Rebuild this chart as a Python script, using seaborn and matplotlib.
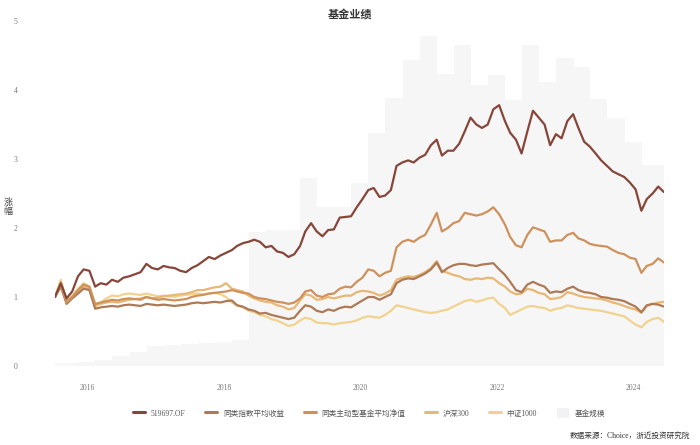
import numpy as np
import pandas as pd
import matplotlib
matplotlib.use("Agg")
import matplotlib.pyplot as plt
import matplotlib.dates as mdates
from matplotlib.lines import Line2D
from matplotlib.patches import Patch
import seaborn as sns

# ---------------- data ----------------
series_names = ["519697.OF", "同类指数平均收益", "同类主动型基金平均净值", "沪深300", "中证1000"]
series_colors = ["#86463a", "#ad7a55", "#cf915c", "#e8b775", "#f1d28e"]

dates = pd.date_range("2015-07-01", periods=108, freq="MS") + pd.Timedelta(days=12)

fund = [1.00, 1.20, 0.98, 1.08, 1.30, 1.40, 1.38, 1.15, 1.20, 1.18, 1.25, 1.22,
        1.28, 1.30, 1.33, 1.36, 1.48, 1.42, 1.40, 1.45, 1.43, 1.42, 1.38, 1.36,
        1.42, 1.46, 1.52, 1.58, 1.55, 1.60, 1.64, 1.68, 1.74, 1.78, 1.80, 1.83,
        1.80, 1.72, 1.74, 1.66, 1.64, 1.58, 1.62, 1.74, 1.95, 2.07, 1.95, 1.88,
        1.97, 1.98, 2.15, 2.16, 2.17, 2.30, 2.42, 2.55, 2.58, 2.45, 2.47, 2.55,
        2.90, 2.95, 2.98, 2.95, 3.02, 3.06, 3.20, 3.28, 3.05, 3.12, 3.12, 3.22,
        3.40, 3.60, 3.50, 3.45, 3.50, 3.72, 3.78, 3.55, 3.38, 3.28, 3.08, 3.40,
        3.70, 3.60, 3.50, 3.20, 3.36, 3.30, 3.55, 3.65, 3.45, 3.25, 3.18, 3.08,
        2.98, 2.90, 2.82, 2.78, 2.74, 2.66, 2.56, 2.25, 2.42, 2.50, 2.60, 2.52]

index_avg = [1.00, 1.15, 0.90, 0.98, 1.05, 1.12, 1.10, 0.83, 0.85, 0.86, 0.87, 0.86,
             0.88, 0.89, 0.88, 0.87, 0.90, 0.89, 0.88, 0.89, 0.88, 0.87, 0.88, 0.89,
             0.91, 0.92, 0.91, 0.92, 0.93, 0.92, 0.94, 0.95, 0.88, 0.86, 0.82, 0.80,
             0.76, 0.77, 0.74, 0.72, 0.70, 0.68, 0.70, 0.80, 0.88, 0.86, 0.80, 0.78,
             0.82, 0.80, 0.84, 0.86, 0.85, 0.90, 0.95, 1.00, 1.00, 0.96, 1.00, 1.04,
             1.20, 1.25, 1.27, 1.26, 1.30, 1.34, 1.40, 1.50, 1.36, 1.42, 1.46, 1.48,
             1.48, 1.46, 1.45, 1.47, 1.48, 1.49, 1.40, 1.32, 1.22, 1.10, 1.07, 1.18,
             1.22, 1.18, 1.15, 1.06, 1.08, 1.07, 1.12, 1.15, 1.10, 1.07, 1.06, 1.04,
             1.00, 0.99, 0.97, 0.96, 0.94, 0.90, 0.86, 0.78, 0.88, 0.90, 0.89, 0.86]

active_avg = [1.00, 1.18, 0.92, 1.00, 1.10, 1.18, 1.15, 0.90, 0.92, 0.94, 0.96, 0.95,
              0.97, 0.98, 0.97, 0.96, 1.00, 0.98, 0.96, 0.97, 0.96, 0.95, 0.96, 0.97,
              1.00, 1.02, 1.03, 1.05, 1.06, 1.07, 1.08, 1.10, 1.08, 1.06, 1.05, 1.00,
              0.98, 0.97, 0.95, 0.93, 0.92, 0.90, 0.92, 0.98, 1.08, 1.10, 1.02, 1.00,
              1.04, 1.05, 1.12, 1.15, 1.14, 1.22, 1.28, 1.40, 1.38, 1.30, 1.35, 1.38,
              1.72, 1.80, 1.83, 1.80, 1.86, 1.90, 2.05, 2.22, 1.95, 2.00, 2.07, 2.10,
              2.22, 2.20, 2.18, 2.20, 2.24, 2.30, 2.20, 2.05, 1.87, 1.75, 1.72, 1.90,
              2.01, 1.98, 1.95, 1.80, 1.82, 1.82, 1.90, 1.93, 1.85, 1.82, 1.77, 1.75,
              1.74, 1.73, 1.68, 1.64, 1.62, 1.57, 1.55, 1.35, 1.45, 1.48, 1.56, 1.50]

hs300 = [1.00, 1.22, 0.95, 1.00, 1.08, 1.15, 1.12, 0.88, 0.90, 0.92, 0.93, 0.92,
         0.94, 0.96, 0.97, 0.98, 1.00, 0.98, 0.99, 1.01, 1.02, 1.03, 1.04, 1.05,
         1.07, 1.10, 1.10, 1.12, 1.14, 1.15, 1.20, 1.12, 1.10, 1.08, 1.02, 0.98,
         0.95, 0.93, 0.92, 0.88, 0.86, 0.82, 0.84, 0.95, 1.04, 1.02, 0.96, 0.97,
         1.00, 0.98, 1.00, 1.02, 1.02, 1.07, 1.09, 1.08, 1.06, 1.02, 1.05, 1.10,
         1.25, 1.28, 1.30, 1.29, 1.32, 1.36, 1.42, 1.52, 1.38, 1.35, 1.32, 1.30,
         1.26, 1.25, 1.27, 1.26, 1.28, 1.27, 1.20, 1.15, 1.08, 1.04, 1.05, 1.12,
         1.10, 1.06, 1.04, 0.97, 0.98, 1.00, 1.07, 1.05, 1.02, 1.00, 0.99, 0.98,
         0.97, 0.95, 0.92, 0.90, 0.87, 0.84, 0.82, 0.77, 0.87, 0.90, 0.92, 0.93]

csi1000 = [1.00, 1.25, 0.92, 1.02, 1.12, 1.20, 1.15, 0.85, 0.92, 0.98, 1.02, 1.01,
           1.04, 1.05, 1.04, 1.03, 1.05, 1.03, 1.01, 1.02, 1.01, 1.00, 1.02, 1.03,
           1.04, 1.05, 1.04, 1.05, 1.06, 1.04, 1.00, 0.92, 0.88, 0.85, 0.80, 0.78,
           0.74, 0.72, 0.68, 0.66, 0.62, 0.58, 0.60, 0.66, 0.70, 0.68, 0.63, 0.62,
           0.62, 0.60, 0.62, 0.63, 0.64, 0.66, 0.70, 0.72, 0.71, 0.70, 0.74, 0.80,
           0.88, 0.86, 0.84, 0.82, 0.80, 0.78, 0.77, 0.78, 0.80, 0.82, 0.86, 0.90,
           0.94, 0.96, 0.93, 0.95, 0.98, 0.99, 0.90, 0.84, 0.74, 0.78, 0.82, 0.86,
           0.87, 0.85, 0.84, 0.80, 0.83, 0.84, 0.88, 0.86, 0.84, 0.83, 0.82, 0.81,
           0.80, 0.78, 0.76, 0.74, 0.72, 0.66, 0.60, 0.56, 0.64, 0.68, 0.70, 0.64]

size_dates = pd.to_datetime([
    "2015-06-30", "2015-09-30", "2015-12-31", "2016-03-31", "2016-06-30", "2016-09-30",
    "2016-12-31", "2017-03-31", "2017-06-30", "2017-09-30", "2017-12-31", "2018-03-31",
    "2018-06-30", "2018-09-30", "2018-12-31", "2019-03-31", "2019-06-30", "2019-09-30",
    "2019-12-31", "2020-03-31", "2020-06-30", "2020-09-30", "2020-12-31", "2021-03-31",
    "2021-06-30", "2021-09-30", "2021-12-31", "2022-03-31", "2022-06-30", "2022-09-30",
    "2022-12-31", "2023-03-31", "2023-06-30", "2023-09-30", "2023-12-31", "2024-03-31",
    "2024-06-30"])
fund_size = [0.40, 0.43, 0.58, 0.87, 1.45, 2.03,
             2.90, 3.04, 3.19, 3.33, 3.48, 3.77,
             19.4, 19.7, 19.7, 27.2, 23.0, 23.0,
             26.5, 33.8, 38.8, 44.3, 47.8, 42.3,
             46.5, 40.7, 42.2, 38.6, 46.5, 41.2,
             44.6, 43.3, 38.7, 35.9, 32.5, 29.1,
             29.1]

title = "基金业绩"
ylabel = "涨\n幅"
size_label = "基金规模"
source = "数据来源：Choice，浙近投资研究院"

# ---------------- plot ----------------
sns.set_theme(style="white")
plt.rcParams["font.family"] = ["Liberation Serif", "Noto Sans CJK SC", "DejaVu Sans"]
plt.rcParams["axes.unicode_minus"] = False

fig = plt.figure(figsize=(7.0, 4.45), dpi=100)
ax = fig.add_axes([55 / 700, 1 - 366 / 445, (664 - 55) / 700, (366 - 21) / 445])
ax2 = ax.twinx()

ax2.bar(size_dates, fund_size, width=92, color="#f6f6f7", linewidth=0, align="center")
ax2.set_ylim(0, 50)
ax2.set_yticks([])
for s in ax2.spines.values():
    s.set_visible(False)

df = pd.DataFrame({"date": dates})
for name, vals in zip(series_names, [fund, index_avg, active_avg, hs300, csi1000]):
    df[name] = vals
long = df.melt(id_vars="date", var_name="series", value_name="value")
order = ["中证1000", "沪深300", "同类指数平均收益", "同类主动型基金平均净值", "519697.OF"]
pal = dict(zip(series_names, series_colors))
for name in order:
    sub = long[long["series"] == name]
    sns.lineplot(data=sub, x="date", y="value", color=pal[name], linewidth=1.6,
                 ax=ax, legend=False)

ax.set_zorder(ax2.get_zorder() + 1)
ax.patch.set_visible(False)

ax.set_xlim(dates[0], dates[-1])
ax.set_ylim(0, 5)
ax.set_yticks([0, 1, 2, 3, 4, 5])
ax.xaxis.set_major_locator(mdates.YearLocator(2))
ax.xaxis.set_major_formatter(mdates.DateFormatter("%Y"))
ax.tick_params(axis="y", length=0, pad=27, labelsize=5.5, labelcolor="#777777")
ax.tick_params(axis="x", length=0, pad=13, labelsize=5.5, labelcolor="#777777")
ax.set_xlabel("")
ax.set_ylabel("")
for s in ax.spines.values():
    s.set_visible(False)
ax.grid(False)

fig.text(8 / 700, 1 - 207 / 445, ylabel, fontsize=6.5, color="#444444",
         ha="center", va="center", linespacing=1.0)
fig.text(350 / 700, 1 - 14 / 445, title, fontsize=8, fontweight="bold",
         color="#333333", ha="center", va="center")
fig.text(690 / 700, 1 - 436 / 445, source, fontsize=5.5, color="#333333",
         ha="right", va="center")

handles = [Line2D([0], [0], color=c, lw=2.2) for c in series_colors]
handles.append(Patch(facecolor="#f2f2f4", edgecolor="none"))
labels = series_names + [size_label]
leg = fig.legend(handles, labels, loc="center", bbox_to_anchor=(369 / 700, 1 - 413 / 445),
                 ncol=6, frameon=False, fontsize=5.5, handlelength=1.6,
                 handletextpad=0.7, columnspacing=2.6, handleheight=1.6)
for t in leg.get_texts():
    t.set_color("#555555")

fig.savefig("out.png", dpi=100)
